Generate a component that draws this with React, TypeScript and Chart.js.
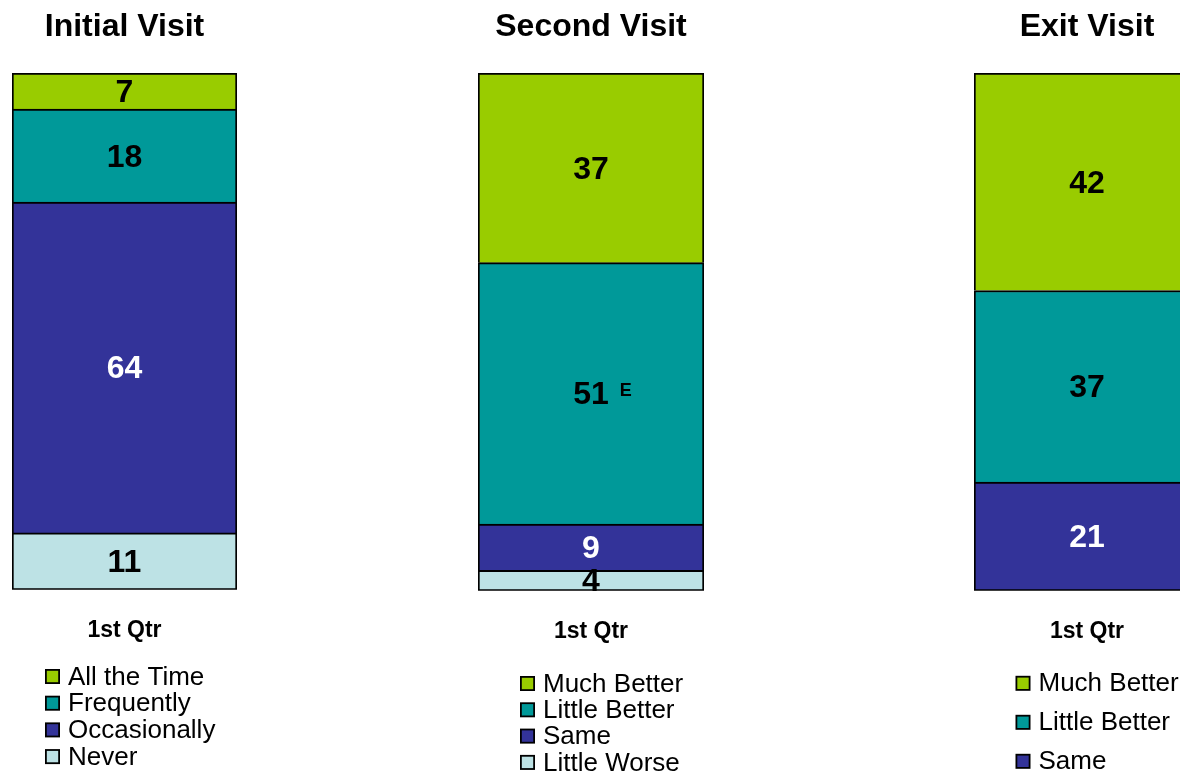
import React, { useEffect, useRef } from 'react';
import { Chart, registerables } from 'chart.js';

Chart.register(...registerables);

// ---------- data ----------
const CATEGORIES = ['1st Qtr'];

const INITIAL_TITLE = 'Initial Visit';
const INITIAL_SERIES = ['Never', 'Occasionally', 'Frequently', 'All the Time'];
const INITIAL_VALUES = [11, 64, 18, 7];
const INITIAL_FLAGS = ['', '', '', ''];

const SECOND_TITLE = 'Second Visit';
const SECOND_SERIES = ['Little Worse', 'Same', 'Little Better', 'Much Better'];
const SECOND_VALUES = [4, 9, 51, 37];
const SECOND_FLAGS = ['', '', 'E', ''];

const EXIT_TITLE = 'Exit Visit';
const EXIT_SERIES = ['Same', 'Little Better', 'Much Better'];
const EXIT_VALUES = [21, 37, 42];
const EXIT_FLAGS = ['', '', ''];

// ---------- styles ----------
const FONT = "Arial, 'Liberation Sans', Helvetica, sans-serif";
const GREEN = '#99CC00';
const TEAL = '#009999';
const BLUE = '#333399';
const LIGHT = '#BDE2E5';

const SERIES_COLORS: Record<string, string> = {
  'All the Time': GREEN,
  'Much Better': GREEN,
  Frequently: TEAL,
  'Little Better': TEAL,
  Occasionally: BLUE,
  Same: BLUE,
  Never: LIGHT,
  'Little Worse': LIGHT,
};
const LABEL_COLORS: Record<string, string> = {
  [GREEN]: '#000000',
  [TEAL]: '#000000',
  [BLUE]: '#FFFFFF',
  [LIGHT]: '#000000',
};

const valueLabelPlugin = {
  id: 'valueLabels',
  afterDatasetsDraw(chart: any, _args: any, opts: any) {
    const ctx = chart.ctx;
    chart.data.datasets.forEach((ds: any, i: number) => {
      const meta = chart.getDatasetMeta(i);
      meta.data.forEach((el: any, j: number) => {
        const { x, y, base } = el.getProps(['x', 'y', 'base'], true);
        const cy = (y + base) / 2;
        const txt = String(ds.data[j]);
        ctx.save();
        ctx.font = `bold ${opts.size}px ${FONT}`;
        ctx.fillStyle = LABEL_COLORS[ds.backgroundColor] || '#000';
        ctx.textAlign = 'center';
        ctx.textBaseline = 'middle';
        ctx.fillText(txt, x, cy + opts.dy);
        const flag = ds.flags && ds.flags[j];
        if (flag) {
          const w = ctx.measureText(txt).width;
          ctx.font = `bold ${opts.flagSize}px ${FONT}`;
          ctx.textAlign = 'left';
          ctx.textBaseline = 'alphabetic';
          ctx.fillText(flag, x + w / 2 + opts.flagGap, cy + opts.flagDy);
        }
        ctx.restore();
      });
    });
  },
};

const stackLegendPlugin = {
  id: 'stackLegend',
  afterDraw(chart: any, _args: any, opts: any) {
    const ctx = chart.ctx;
    const items = chart.data.datasets.slice().reverse();
    ctx.save();
    items.forEach((d: any, k: number) => {
      const cy = opts.y + k * opts.gap;
      const bx = opts.x;
      const s = opts.box;
      ctx.fillStyle = '#000';
      ctx.fillRect(bx, cy - s / 2, s, s);
      ctx.fillStyle = d.backgroundColor;
      ctx.fillRect(bx + opts.border, cy - s / 2 + opts.border, s - 2 * opts.border, s - 2 * opts.border);
      ctx.fillStyle = '#000';
      ctx.font = `${opts.fontSize}px ${FONT}`;
      ctx.textAlign = 'left';
      ctx.textBaseline = 'middle';
      ctx.fillText(d.label, bx + s + opts.textGap, cy + 1);
    });
    ctx.restore();
  },
};

type PanelProps = {
  title: string;
  series: string[];
  values: number[];
  flags: string[];
  left: number;
  width: number;
  padLeft: number;
  padRight: number;
  bottomY: number;
  legendX: number;
  legendY: number;
  legendGap: number;
};

const HEIGHT = 773;
const AXIS_H = 82.4;

function Panel(p: PanelProps) {
  const ref = useRef<HTMLCanvasElement | null>(null);
  useEffect(() => {
    if (!ref.current) return;
    const total = p.values.reduce((a, b) => a + b, 0);
    const datasets = p.series.map((name, i) => ({
      label: name,
      data: [p.values[i]],
      flags: [p.flags[i]],
      backgroundColor: SERIES_COLORS[name],
      borderColor: '#000000',
      borderWidth: { top: 2, left: 2, right: 2, bottom: i === 0 ? 2 : 0 },
      borderSkipped: false,
      barPercentage: 1,
      categoryPercentage: 1,
    }));
    const chart = new Chart(ref.current, {
      type: 'bar',
      data: { labels: CATEGORIES, datasets: datasets as any },
      options: {
        responsive: false,
        animation: false,
        devicePixelRatio: 1,
        layout: {
          padding: { top: 0, left: p.padLeft, right: p.padRight, bottom: HEIGHT - p.bottomY - AXIS_H },
        },
        scales: {
          x: {
            stacked: true,
            grid: { display: false, drawTicks: false },
            border: { display: false },
            ticks: {
              color: '#000',
              padding: 27,
              maxRotation: 0,
              font: { size: 23, weight: 'bold', family: FONT },
            },
          },
          y: { stacked: true, display: false, min: 0, max: total },
        },
        plugins: {
          legend: { display: false },
          tooltip: { enabled: false },
          title: {
            display: true,
            text: p.title,
            color: '#000',
            font: { size: 32, weight: 'bold', family: FONT, lineHeight: 1.2 },
            padding: { top: 8, bottom: 26.6 },
          },
          valueLabels: { size: 32, dy: 2, flagSize: 18, flagGap: 11, flagDy: 2.5 },
          stackLegend: {
            x: p.legendX,
            y: p.legendY,
            gap: p.legendGap,
            box: 15,
            border: 1.8,
            textGap: 8,
            fontSize: 26,
          },
        } as any,
      },
      plugins: [valueLabelPlugin, stackLegendPlugin],
    });
    return () => chart.destroy();
  }, []);
  return (
    <div style={{ position: 'absolute', left: p.left, top: 0, width: p.width, height: HEIGHT }}>
      <canvas ref={ref} width={p.width} height={HEIGHT} style={{ display: 'block' }} />
    </div>
  );
}

export default function App() {
  return (
    <div
      style={{
        position: 'fixed',
        left: 0,
        top: 0,
        width: 1180,
        height: HEIGHT,
        overflow: 'hidden',
        background: '#fff',
      }}
    >
      <Panel
        title={INITIAL_TITLE}
        series={INITIAL_SERIES}
        values={INITIAL_VALUES}
        flags={INITIAL_FLAGS}
        left={0}
        width={250}
        padLeft={12}
        padRight={13}
        bottomY={589}
        legendX={45}
        legendY={676.5}
        legendGap={26.7}
      />
      <Panel
        title={SECOND_TITLE}
        series={SECOND_SERIES}
        values={SECOND_VALUES}
        flags={SECOND_FLAGS}
        left={440}
        width={300}
        padLeft={38}
        padRight={36}
        bottomY={590}
        legendX={80}
        legendY={683.5}
        legendGap={26.3}
      />
      <Panel
        title={EXIT_TITLE}
        series={EXIT_SERIES}
        values={EXIT_VALUES}
        flags={EXIT_FLAGS}
        left={940}
        width={300}
        padLeft={34}
        padRight={40}
        bottomY={590}
        legendX={75.5}
        legendY={683.3}
        legendGap={39}
      />
    </div>
  );
}
